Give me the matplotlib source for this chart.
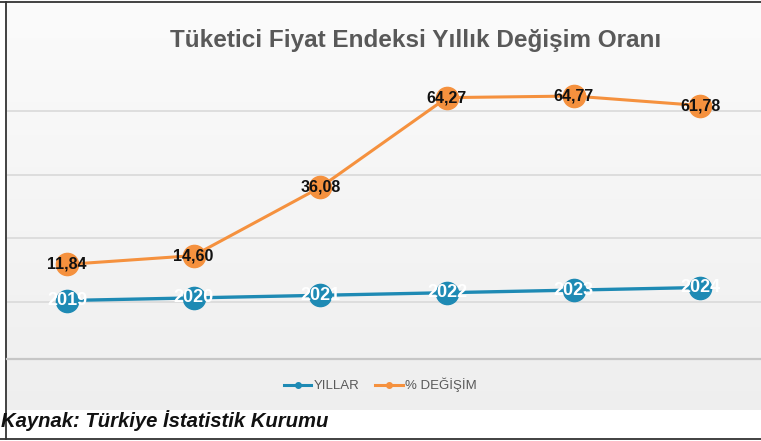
import numpy as np
import matplotlib
matplotlib.use("Agg")
import matplotlib.pyplot as plt
from matplotlib.lines import Line2D

plt.rcParams['font.family'] = ['Liberation Sans', 'DejaVu Sans']

# Data
years = [2019, 2020, 2021, 2022, 2023, 2024]
change_pct = [11.84, 14.60, 36.08, 64.27, 64.77, 61.78]
title = "Tüketici Fiyat Endeksi Yıllık Değişim Oranı"
legend_labels = ["YILLAR", "% DEĞİŞİM"]
caption = "Kaynak: Türkiye İstatistik Kurumu"

W, H = 761, 441
fig = plt.figure(figsize=(W / 100, H / 100), dpi=100, facecolor="white")

def fx(px):
    return px / W

def fy(py):
    return 1 - py / H

# chart area background (gradient)
bg = fig.add_axes([fx(7), fy(410), 1 - fx(7), fy(0) - fy(410)], zorder=0)
grad = np.linspace(0, 1, 256).reshape(-1, 1)
top_c = np.array([0.985, 0.985, 0.985])
bot_c = np.array([0.935, 0.935, 0.935])
img = top_c[None, None, :] * (1 - grad[..., None]) + bot_c[None, None, :] * grad[..., None]
bg.imshow(img, aspect="auto", extent=[0, 1, 0, 1])
bg.set_axis_off()

orange = "#F5913E"
blue = "#1E8AB4"

x = np.arange(len(years))

ax = fig.add_axes([fx(7), fy(359), 1 - fx(7), fy(60) - fy(359)], zorder=2)
ax.patch.set_alpha(0)
ax.set_xlim(-0.474, 5.48)
ax.set_ylim(-17.9, 76.1)
ax.set_yticks([0, 20, 40, 60])
ax.grid(axis="y", color="#d9d9d9", linewidth=1.2)
ax.set_axisbelow(True)
for s in ["top", "left", "right"]:
    ax.spines[s].set_visible(False)
ax.spines["bottom"].set_color("#c6c6c6")
ax.spines["bottom"].set_linewidth(1.6)

ax.plot(x, change_pct, color=orange, linewidth=2.2, marker="o", markersize=16,
        markerfacecolor=orange, markeredgecolor=orange, zorder=3)
for xi, v in zip(x, change_pct):
    ax.text(xi, v, f"{v:.2f}".replace(".", ","), ha="center", va="center",
            fontsize=11.5, fontweight="bold", color="#111111", zorder=5)

ax2 = ax.twinx()
ax2.set_ylim(1996.5, 2111.5)
ax2.set_axis_off()
ax2.plot(x, years, color=blue, linewidth=2.4, marker="o", markersize=16,
         markerfacecolor=blue, markeredgecolor=blue, zorder=3)
for xi, yv in zip(x, years):
    ax2.text(xi, yv, str(yv), ha="center", va="center", fontsize=13,
             fontweight="bold", color="white", zorder=5)

ax.tick_params(axis="both", which="both", length=0, left=False, right=False,
               bottom=False, labelleft=False, labelright=False, labelbottom=False)

# Title
fig.text(fx(416), fy(47), title, ha="center", va="baseline", fontsize=17.5,
         fontweight="bold", color="#595959")

# Legend
handles = [
    Line2D([], [], color=blue, linewidth=2.2, marker="o", markersize=4),
    Line2D([], [], color=orange, linewidth=2.2, marker="o", markersize=4),
]
leg = fig.legend(handles, legend_labels, loc="center", bbox_to_anchor=(fx(380), fy(385)),
                 ncol=2, frameon=False, fontsize=9.5, handlelength=2.1,
                 handletextpad=0.15, columnspacing=1.2, labelcolor="#595959")

# Caption
fig.text(fx(1), fy(427), caption, ha="left", va="baseline", fontsize=14.6,
         fontweight="bold", fontstyle="italic", color="#111111")

# borders
border_c = "#333333"
fig.add_artist(Line2D([0, 1], [fy(1.5), fy(1.5)], color=border_c, linewidth=1.3))
fig.add_artist(Line2D([0, 1], [fy(438.5), fy(438.5)], color=border_c, linewidth=1.3))
fig.add_artist(Line2D([fx(6), fx(6)], [fy(1.5), fy(438.5)], color=border_c, linewidth=1.3))

fig.savefig("out.png", dpi=100, facecolor="white")
